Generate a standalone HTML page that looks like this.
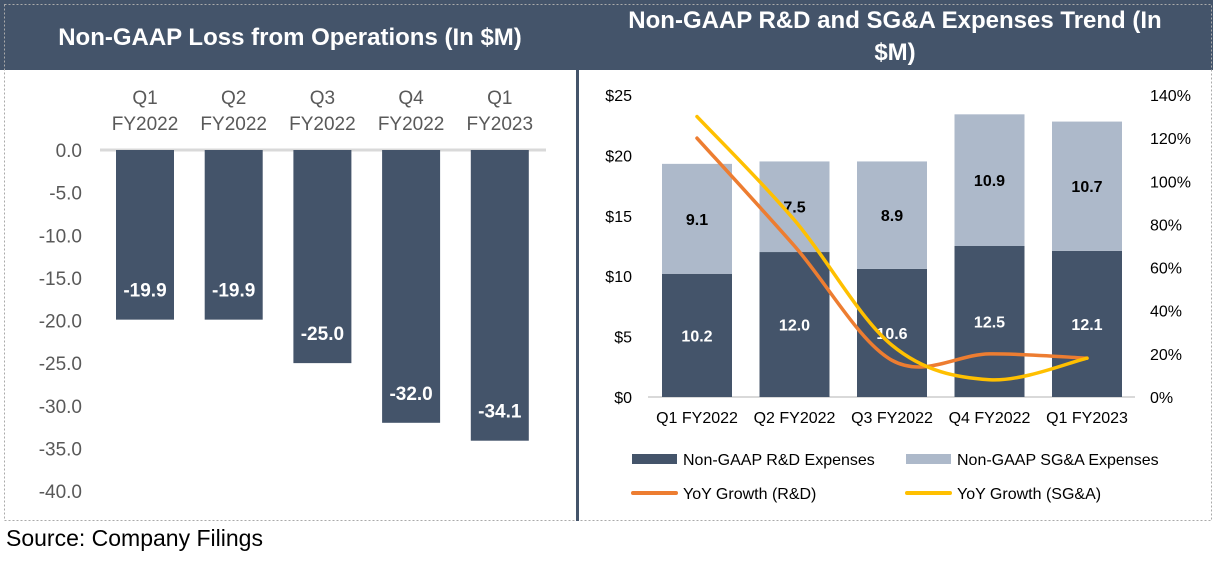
<!DOCTYPE html>
<html><head><meta charset="utf-8"><style>
body{margin:0;background:#fff;width:1213px;height:562px;overflow:hidden;font-family:"Liberation Sans",sans-serif}
svg text{font-family:"Liberation Sans",sans-serif}
</style></head><body>
<svg id="s" width="1213" height="562">
<rect x="0" y="0" width="1213" height="70" fill="#44546a"/>
<rect x="4.5" y="4.5" width="1207" height="516" fill="none" stroke="#aaa" stroke-dasharray="2,2"/>
<text x="290" y="45" text-anchor="middle" fill="#fff" font-weight="bold" font-size="24">Non-GAAP Loss from Operations (In $M)</text>
<text x="895" y="28" text-anchor="middle" fill="#fff" font-weight="bold" font-size="24">Non-GAAP R&amp;D and SG&amp;A Expenses Trend (In</text>
<text x="895" y="60" text-anchor="middle" fill="#fff" font-weight="bold" font-size="24">$M)</text>
<rect x="576" y="70" width="3" height="451" fill="#44546a"/>
<text x="6" y="546" font-size="23" fill="#000">Source: Company Filings</text>
<g id="left"></g><g id="right"></g>
</svg>
<script>
const lossCats=[["Q1","FY2022"],["Q2","FY2022"],["Q3","FY2022"],["Q4","FY2022"],["Q1","FY2023"]];
const lossVals=[-19.9,-19.9,-25.0,-32.0,-34.1];
const lossTicks=[0,-5,-10,-15,-20,-25,-30,-35,-40];
const cats=["Q1 FY2022","Q2 FY2022","Q3 FY2022","Q4 FY2022","Q1 FY2023"];
const rd=[10.2,12.0,10.6,12.5,12.1];
const sga=[9.1,7.5,8.9,10.9,10.7];
const rdGrowth=[120,70,17,20,18];
const sgaGrowth=[130,82,24,8,18];
const dTicks=[0,5,10,15,20,25];
const pTicks=[0,20,40,60,80,100,120,140];
const NS="http://www.w3.org/2000/svg";
function mk(p,tag,a,t){const e=document.createElementNS(NS,tag);for(const k in a)e.setAttribute(k,a[k]);if(t!==undefined)e.textContent=t;p.appendChild(e);return e;}
// left
const L=document.getElementById('left');
const ly=v=>150+(-v)*(341/40), lx=i=>145+i*88.7;
lossTicks.forEach(t=>{const e=mk(L,'text',{x:82,y:ly(t)+7,'text-anchor':'end','font-size':19,fill:'#595959'},t.toFixed(1));

});
const g0=mk(L,'line',{x1:100,x2:546,y1:ly(0),y2:ly(0),stroke:'#d9d9d9','stroke-width':3});


lossVals.forEach((v,i)=>{
const b=mk(L,'rect',{x:lx(i)-29,y:ly(0),width:58,height:ly(v)-ly(0),fill:'#44546a'});


const t=mk(L,'text',{x:lx(i),y:ly(v)-23,'text-anchor':'middle','font-size':19,'font-weight':'bold',fill:'#fff'},v.toFixed(1));


lossCats[i].forEach((s,j)=>{const c=mk(L,'text',{x:lx(i),y:104+j*26,'text-anchor':'middle','font-size':19,fill:'#595959'},s);

});
});
// right
const R=document.getElementById('right');
const dy=v=>397-v*(302/25), py=v=>397-v*(302/140), rx=i=>697+i*97.5;
dTicks.forEach(t=>{const e=mk(R,'text',{x:632,y:dy(t)+6,'text-anchor':'end','font-size':16,fill:'#000'},'$'+t);

});
pTicks.forEach(t=>{const e=mk(R,'text',{x:1150,y:py(t)+6,'font-size':16,fill:'#000'},t+'%');

});
const ax=mk(R,'line',{x1:648,x2:1135,y1:397,y2:397,stroke:'#d9d9d9','stroke-width':2});


cats.forEach((c,i)=>{
const b1=mk(R,'rect',{x:rx(i)-35,y:dy(rd[i]),width:70,height:dy(0)-dy(rd[i]),fill:'#44546a'});


const b2=mk(R,'rect',{x:rx(i)-35,y:dy(rd[i]+sga[i]),width:70,height:dy(rd[i])-dy(rd[i]+sga[i]),fill:'#adb9ca'});


const t1=mk(R,'text',{x:rx(i),y:(dy(rd[i])+397)/2+6,'text-anchor':'middle','font-size':16,'font-weight':'bold',fill:'#fff'},rd[i].toFixed(1));


const t2=mk(R,'text',{x:rx(i),y:(dy(rd[i])+dy(rd[i]+sga[i]))/2+6,'text-anchor':'middle','font-size':16,'font-weight':'bold',fill:'#000'},sga[i].toFixed(1));


const xl=mk(R,'text',{x:rx(i),y:423,'text-anchor':'middle','font-size':16,fill:'#000'},c);


});
function smooth(vals){const p=vals.map((v,i)=>[rx(i),py(v)]);let d='M'+p[0][0]+','+p[0][1];
for(let i=0;i<p.length-1;i++){const a=p[i-1]||p[i],b=p[i],c=p[i+1],e=p[i+2]||c;
d+=` C${b[0]+(c[0]-a[0])/6},${b[1]+(c[1]-a[1])/6} ${c[0]-(e[0]-b[0])/6},${c[1]-(e[1]-b[1])/6} ${c[0]},${c[1]}`;}return d;}
const l1=mk(R,'path',{d:smooth(rdGrowth),fill:'none',stroke:'#ed7d31','stroke-width':3.5,'stroke-linecap':'round'});


const l2=mk(R,'path',{d:smooth(sgaGrowth),fill:'none',stroke:'#ffc000','stroke-width':3.5,'stroke-linecap':'round'});


// legend
const lg=[[632,459,'rect','#44546a','Non-GAAP R&D Expenses'],[906,459,'rect','#adb9ca','Non-GAAP SG&A Expenses'],[632,493,'line','#ed7d31','YoY Growth (R&D)'],[906,493,'line','#ffc000','YoY Growth (SG&A)']];
lg.forEach(([x,y,k,c,s])=>{
const m=k==='rect'?mk(R,'rect',{x:x,y:y-5,width:45,height:10,fill:c}):mk(R,'line',{x1:x+1,x2:x+44,y1:y,y2:y,stroke:c,'stroke-width':4,'stroke-linecap':'round'});


const t=mk(R,'text',{x:x+51,y:y+6,'font-size':16,fill:'#000'},s);


});
</script>
</body></html>
